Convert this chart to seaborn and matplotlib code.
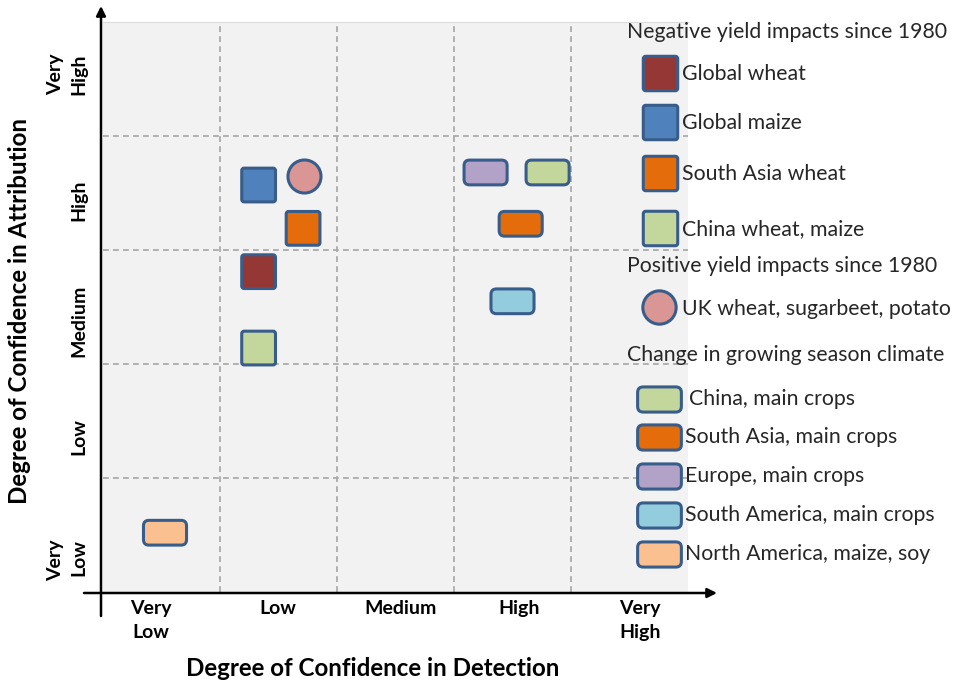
import numpy as np
import pandas as pd
import matplotlib
matplotlib.use("Agg")
import matplotlib.pyplot as plt
from matplotlib.patches import FancyBboxPatch
import seaborn as sns

# ---------------- data ----------------
detect_levels = ["Very\nLow", "Low", "Medium", "High", "Very\nHigh"]
attrib_levels = ["Very\nLow", "Low", "Medium", "High", "Very\nHigh"]

neg_labels = ["Global wheat", "Global maize", "South Asia wheat", "China wheat, maize"]
neg_x = [1.33, 1.33, 1.71, 1.33]
neg_y = [2.81, 3.57, 3.19, 2.14]

pos_labels = ["UK wheat, sugarbeet, potato"]
pos_x = [1.72]
pos_y = [3.65]

clim_labels = ["China, main crops", "South Asia, main crops", "Europe, main crops",
               "South America, main crops", "North America, maize, soy"]
clim_x = [3.80, 3.57, 3.27, 3.50, 0.53]
clim_y = [3.68, 3.23, 3.68, 2.55, 0.52]

group_titles = ["Negative yield impacts since 1980",
                "Positive yield impacts since 1980",
                "Change in growing season climate"]
x_title = "Degree of Confidence in Detection"
y_title = "Degree of Confidence in Attribution"

# ---------------- styles ----------------
neg_colors = {"Global wheat": "#953735", "Global maize": "#4f81bd",
              "South Asia wheat": "#e46c0a", "China wheat, maize": "#c3d69b"}
pos_colors = {"UK wheat, sugarbeet, potato": "#d99694"}
clim_colors = {"China, main crops": "#c3d69b", "South Asia, main crops": "#e46c0a",
               "Europe, main crops": "#b3a2c7", "South America, main crops": "#93cddd",
               "North America, maize, soy": "#fac090"}
EDGE = "#385d8a"
LW = 2.2
TXT = "#262626"

sns.set_style("white")
plt.rcParams["font.family"] = ["Lato", "DejaVu Sans"]


def rounded_path(w, h, r):
    p = FancyBboxPatch((-w / 2, -h / 2), w, h,
                       boxstyle=f"round,pad=0,rounding_size={r}")
    return p.get_path()


SQ = rounded_path(1.0, 1.0, 0.07)
RECT = rounded_path(1.74, 1.0, 0.22)

fig = plt.figure(figsize=(9.59, 6.85), dpi=100)
W, H = 959, 685
L, R, T, B = 103, 688, 22, 592
ax = fig.add_axes([L / W, (H - B) / H, (R - L) / W, (B - T) / H])
ax.set_facecolor("#f2f2f2")
ax.set_xlim(0, 5)
ax.set_ylim(0, 5)

# grid
for v in [1, 2, 3, 4]:
    ax.axvline(v, color="#a6a6a6", lw=1.2, ls=(0, (3.5, 2.5)), zorder=1)
    ax.axhline(v, color="#a6a6a6", lw=1.2, ls=(0, (3.5, 2.5)), zorder=1)

for s in ["left", "right", "bottom"]:
    ax.spines[s].set_visible(False)
ax.spines["top"].set_color("#dcdcdc")
ax.spines["top"].set_linewidth(0.8)

neg_df = pd.DataFrame({"x": neg_x, "y": neg_y, "label": neg_labels})
pos_df = pd.DataFrame({"x": pos_x, "y": pos_y, "label": pos_labels})
clim_df = pd.DataFrame({"x": clim_x, "y": clim_y, "label": clim_labels})

sns.scatterplot(data=neg_df, x="x", y="y", hue="label", palette=neg_colors,
                marker=SQ, s=24.3 ** 2, edgecolor=EDGE, linewidth=LW,
                legend=False, ax=ax, zorder=3)
sns.scatterplot(data=pos_df, x="x", y="y", hue="label", palette=pos_colors,
                marker="o", s=23.8 ** 2, edgecolor=EDGE, linewidth=LW,
                legend=False, ax=ax, zorder=3)
sns.scatterplot(data=clim_df, x="x", y="y", hue="label", palette=clim_colors,
                marker=RECT, s=31.0 ** 2, edgecolor=EDGE, linewidth=LW,
                legend=False, ax=ax, zorder=3)

# label positions as placed in the original figure
ax.set_xticks([0.41, 1.49, 2.54, 3.56, 4.59])
ax.set_xticklabels(detect_levels, fontsize=14, fontweight="bold",
                   color="black", linespacing=1.45)
ax.set_yticks([0.28, 1.36, 2.38, 3.44, 4.54])
ax.set_yticklabels(attrib_levels, fontsize=14, fontweight="bold",
                   color="black", rotation=90, va="center", ha="right",
                   linespacing=1.45)
ax.tick_params(axis="x", length=0, pad=6)
ax.tick_params(axis="y", length=0, pad=11.5)

ax.set_xlabel(x_title, fontsize=17.4, fontweight="bold", color="black",
              va="center", ha="center")
ax.xaxis.set_label_coords((373 - L) / (R - L), (B - 668) / (B - T))
ax.set_ylabel(y_title, fontsize=17.4, fontweight="bold", color="black",
              va="center", ha="center")
ax.yaxis.set_label_coords((20 - L) / (R - L), (B - 311) / (B - T))

# ---------------- overlay (axes arrows + legend) in pixel coords ----------------
ov = fig.add_axes([0, 0, 1, 1], zorder=5)
ov.set_xlim(0, W)
ov.set_ylim(H, 0)
ov.axis("off")

ov.annotate("", xy=(101, 6), xytext=(101, 616),
            arrowprops=dict(arrowstyle="-|>", lw=1.8, color="black",
                            mutation_scale=14, shrinkA=0, shrinkB=0))
ov.annotate("", xy=(717, 593), xytext=(84, 593),
            arrowprops=dict(arrowstyle="-|>", lw=1.8, color="black",
                            mutation_scale=14, shrinkA=0, shrinkB=0))

FS = 15.3
ov.text(627, 32, group_titles[0], fontsize=FS, color=TXT, va="center", ha="left")
neg_leg_y = [73, 122, 173, 228]
for lab, yy in zip(neg_labels, neg_leg_y):
    ov.scatter([660], [yy], marker=SQ, s=24.8 ** 2, facecolor=neg_colors[lab],
               edgecolor=EDGE, linewidth=LW)
    ov.text(682, yy + 1, lab, fontsize=FS, color=TXT, va="center", ha="left")

ov.text(627, 266, group_titles[1], fontsize=FS, color=TXT, va="center", ha="left")
for lab in pos_labels:
    ov.scatter([659], [307], marker="o", s=24.0 ** 2, facecolor=pos_colors[lab],
               edgecolor=EDGE, linewidth=LW)
    ov.text(682, 309, lab, fontsize=FS, color=TXT, va="center", ha="left")

ov.text(627, 355, group_titles[2], fontsize=FS, color=TXT, va="center", ha="left")
clim_leg_y = [399, 437, 476, 515, 554]
clim_leg_tx = [689, 685, 685, 685, 685]
for lab, yy, tx in zip(clim_labels, clim_leg_y, clim_leg_tx):
    ov.scatter([659], [yy], marker=RECT, s=31.5 ** 2, facecolor=clim_colors[lab],
               edgecolor=EDGE, linewidth=LW)
    ov.text(tx, yy, lab, fontsize=FS, color=TXT, va="center", ha="left")

fig.savefig("out.png", dpi=100)
